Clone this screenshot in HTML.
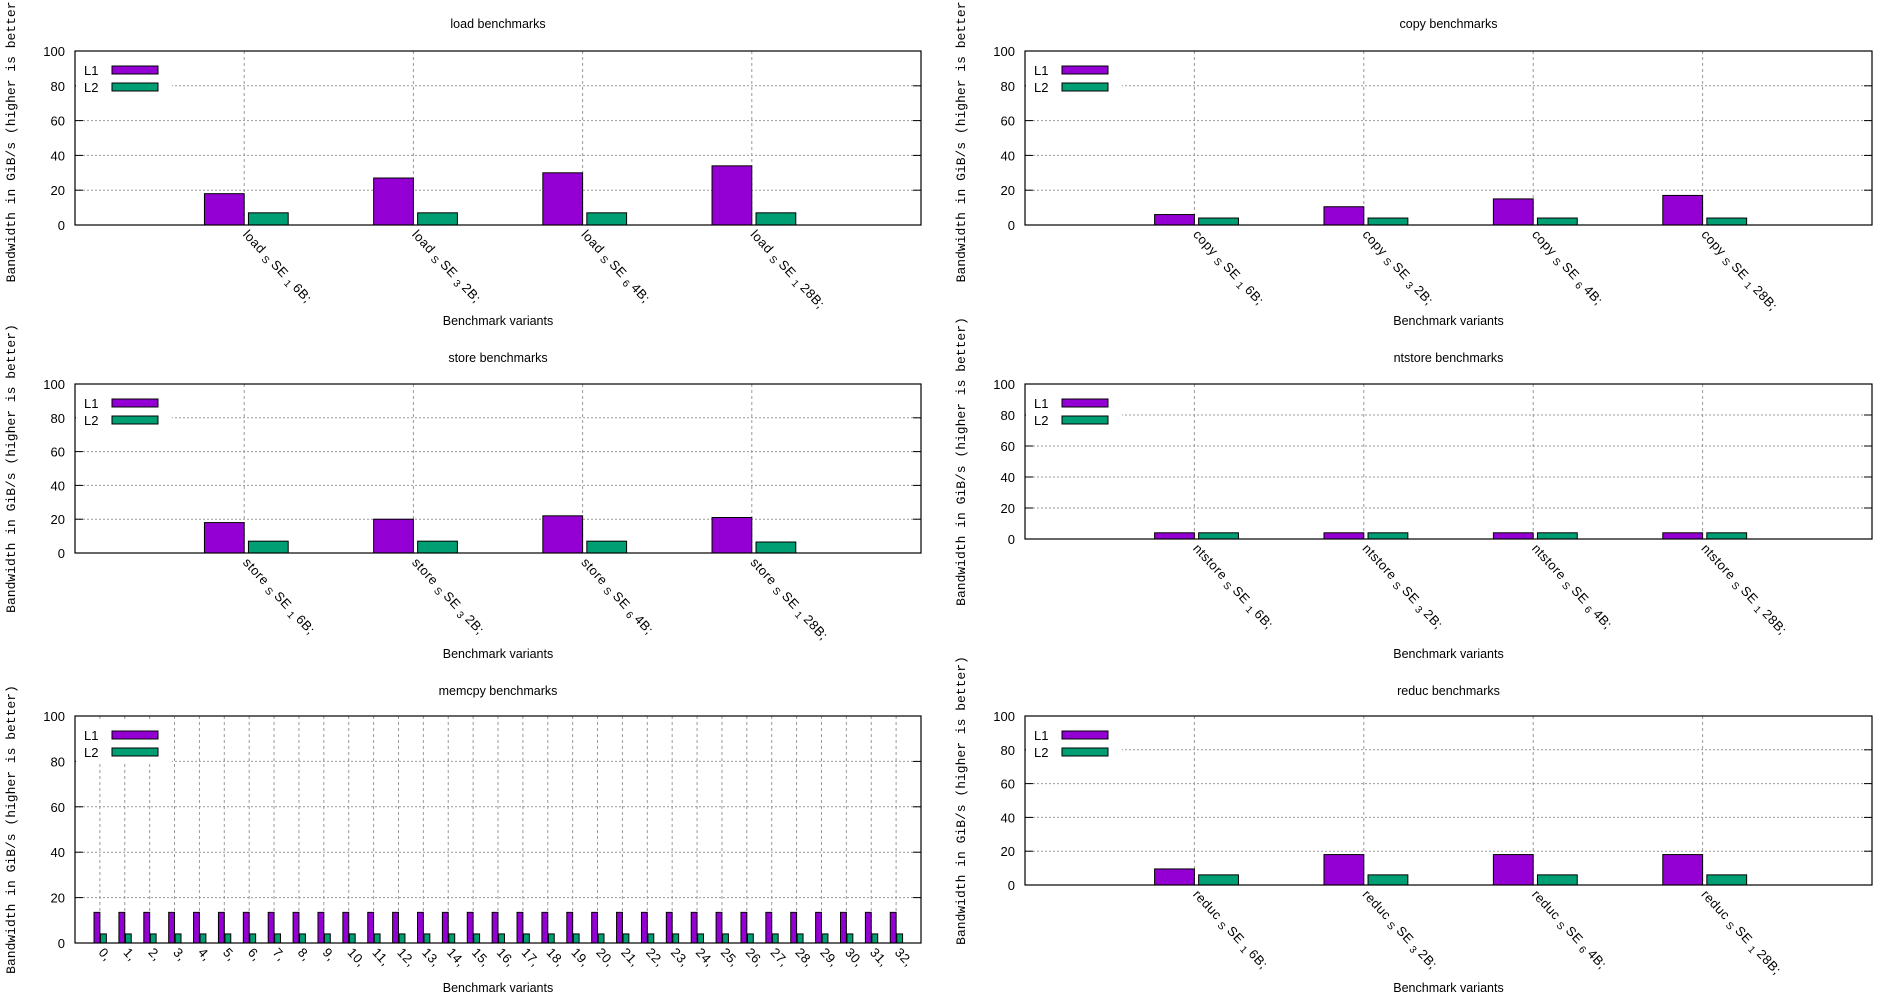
<!DOCTYPE html>
<html><head><meta charset="utf-8"><style>
html,body{margin:0;padding:0;background:#fff;}
svg{display:block;font-family:"Liberation Sans",sans-serif;}
</style></head><body>
<svg id="chart" width="1900" height="1000" xmlns="http://www.w3.org/2000/svg"></svg>
<script>
const loadL1=[18,27,30,34];
const loadL2=[7,7,7,7];
const copyL1=[6,10.5,15,17];
const copyL2=[4,4,4,4];
const storeL1=[18,20,22,21];
const storeL2=[7,7,7,6.5];
const ntstoreL1=[4,4,4,4];
const ntstoreL2=[4,4,4,4];
const memcpyL1=[13.5,13.5,13.5,13.5,13.5,13.5,13.5,13.5,13.5,13.5,13.5,13.5,13.5,13.5,13.5,13.5,13.5,13.5,13.5,13.5,13.5,13.5,13.5,13.5,13.5,13.5,13.5,13.5,13.5,13.5,13.5,13.5,13.5];
const memcpyL2=[4,4,4,4,4,4,4,4,4,4,4,4,4,4,4,4,4,4,4,4,4,4,4,4,4,4,4,4,4,4,4,4,4];
const reducL1=[9.5,18,18,18];
const reducL2=[6,6,6,6];
const sizes=["16B","32B","64B","128B"];
const yTicks=[0,20,40,60,80,100];
const memcpyCats=[];for(let i=0;i<33;i++)memcpyCats.push(String(i));

const NS="http://www.w3.org/2000/svg";
const svg=document.getElementById('chart');
function mk(tag,attrs,parent){const e=document.createElementNS(NS,tag);for(const k in attrs)e.setAttribute(k,attrs[k]);(parent||svg).appendChild(e);return e;}

const panels=[
 {name:'load',x0:75,x1:921,top:51,bot:225,tt:24,xl:321,l1:loadL1,l2:loadL2},
 {name:'copy',x0:1025,x1:1872,top:51,bot:225,tt:24,xl:321,l1:copyL1,l2:copyL2},
 {name:'store',x0:75,x1:921,top:384,bot:553,tt:358,xl:654,l1:storeL1,l2:storeL2},
 {name:'ntstore',x0:1025,x1:1872,top:384,bot:539,tt:358,xl:654,l1:ntstoreL1,l2:ntstoreL2},
 {name:'memcpy',x0:75,x1:921,top:716,bot:943,tt:691,xl:988,l1:memcpyL1,l2:memcpyL2,mem:true},
 {name:'reduc',x0:1025,x1:1872,top:716,bot:885,tt:691,xl:988,l1:reducL1,l2:reducL2}
];

panels.forEach(p=>{
 const g=mk('g',{});
 
 
 const n=p.l1.length;
 const xs=v=>p.x0+(v+1)*(p.x1-p.x0)/(n+1);
 const ys=v=>p.bot-v/100*(p.bot-p.top);
 const unit=(p.x1-p.x0)/(n+1);
 const t=mk('text',{x:(p.x0+p.x1)/2,y:p.tt+4,'text-anchor':'middle','font-size':12.5},g);
 t.textContent=p.name+' benchmarks';
 
 
 const cy=(p.top+p.bot)/2, lx=p.x0-60;
 const yl=mk('text',{x:lx,y:cy,'text-anchor':'middle','font-size':13,'font-family':'Liberation Mono, monospace',transform:`rotate(-90 ${lx} ${cy})`},g);
 yl.textContent='Bandwidth in GiB/s (higher is better)';
 
 
 const xl=mk('text',{x:(p.x0+p.x1)/2,y:p.xl+4,'text-anchor':'middle','font-size':12.5},g);
 xl.textContent='Benchmark variants';
 
 
 yTicks.forEach(v=>{
  const y=ys(v);
  if(v>0&&v<100){const gl=mk('line',{x1:p.x0,x2:p.x1,y1:y,y2:y,stroke:'#999','stroke-width':1,'stroke-dasharray':'2,2'},g);
   }
  mk('line',{x1:p.x0,x2:p.x0+8,y1:y,y2:y,stroke:'#000'},g);
  mk('line',{x1:p.x1-8,x2:p.x1,y1:y,y2:y,stroke:'#000'},g);
  const tl=mk('text',{x:p.x0-10,y:y+5,'text-anchor':'end','font-size':13},g);
  tl.textContent=String(v);
  
  
 });
 for(let i=0;i<n;i++){
  const x=xs(i);
  mk('line',{x1:x,x2:x,y1:p.top,y2:p.bot,stroke:'#999','stroke-width':1,'stroke-dasharray':'3,3'},g);
  const ty=p.bot+10, tx=x-2;
  const lab=mk('text',{x:tx,y:ty,'font-size':13,'letter-spacing':'0.5',transform:`rotate(47 ${tx} ${ty})`},g);
  
  
  if(p.mem){lab.textContent=memcpyCats[i]+',';}
  else{
   const a=mk('tspan',{},lab);a.textContent=p.name+' ';
   const b=mk('tspan',{'font-size':10,dy:3},lab);b.textContent='S ';
   const c=mk('tspan',{dy:-3},lab);c.textContent='SE ';
   const s=sizes[i];
   const d=mk('tspan',{'font-size':10,dy:3},lab);d.textContent=s[0]+' ';
   const e=mk('tspan',{dy:-3},lab);e.textContent=s.slice(1)+';';
  }
 }
 mk('rect',{x:p.x0+1,y:p.top+6,width:96,height:40,fill:'#fff'},g);
 const bw=unit*0.235;
 for(let i=0;i<n;i++){
  const c=xs(i);
  const y1=ys(p.l1[i]),y2=ys(p.l2[i]);
  const r1=mk('rect',{x:c-bw,y:y1,width:bw,height:p.bot-y1,fill:'#9400d3',stroke:'#000','stroke-width':1},g);
  
  
  const r2=mk('rect',{x:c+unit*0.025,y:y2,width:bw,height:p.bot-y2,fill:'#009e73',stroke:'#000','stroke-width':1},g);
  
  
 }
 [['L1','#9400d3',19],['L2','#009e73',36]].forEach(([nm,col,dy])=>{
  const le=mk('g',{},g);
  
  
  const lt=mk('text',{x:p.x0+9,y:p.top+dy+5,'font-size':13},le);lt.textContent=nm;
  mk('rect',{x:p.x0+37,y:p.top+dy-4,width:46,height:8,fill:col,stroke:'#000','stroke-width':1},le);
 });
 mk('rect',{x:p.x0,y:p.top,width:p.x1-p.x0,height:p.bot-p.top,fill:'none',stroke:'#000','stroke-width':1.2},g);
});
</script>
</body></html>
